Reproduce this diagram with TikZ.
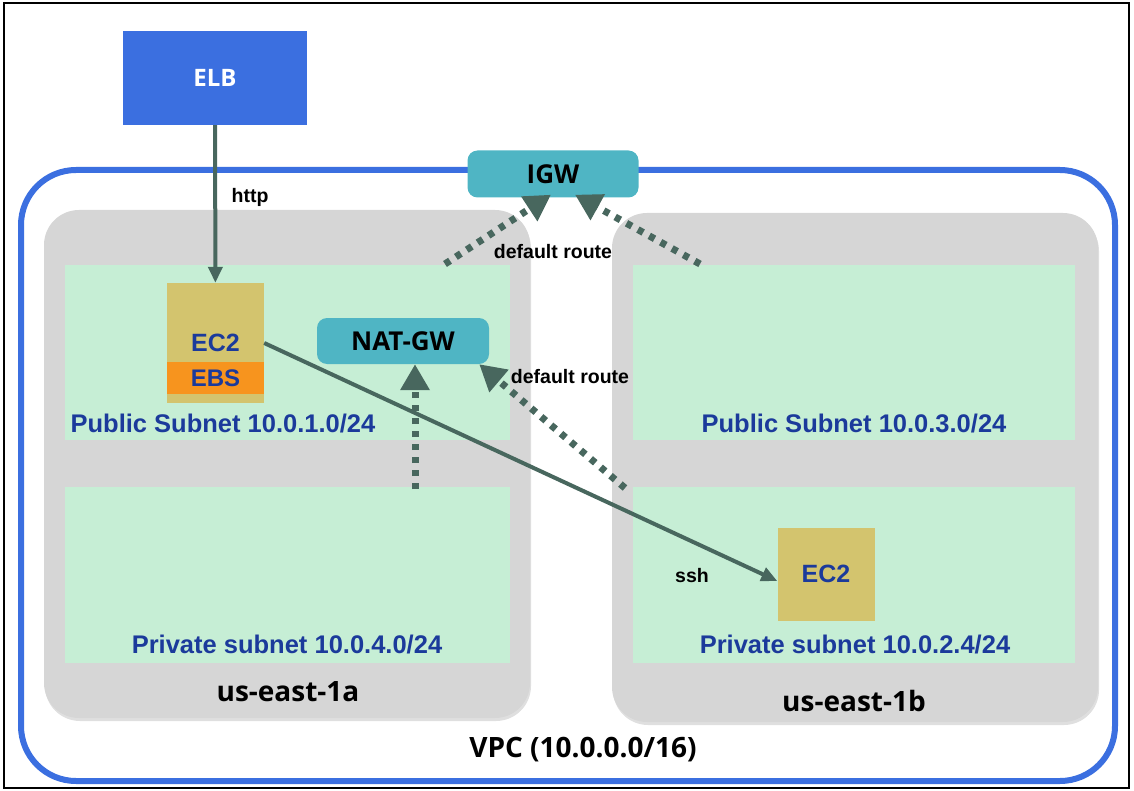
\documentclass[tikz,border=0pt]{standalone}
\usepackage{fontspec}
\setmainfont{Liberation Sans}
\newfontfamily\headfont{Open Sans}
\usetikzlibrary{arrows.meta,positioning,shadows}
\definecolor{vpcblue}{RGB}{59,111,224}
\definecolor{azgray}{RGB}{214,214,214}
\definecolor{subnetgreen}{RGB}{198,238,213}
\definecolor{ec2tan}{RGB}{211,196,110}
\definecolor{ebsorange}{RGB}{247,148,30}
\definecolor{gwteal}{RGB}{79,181,196}
\definecolor{navytext}{RGB}{27,58,155}
\definecolor{linkgreen}{RGB}{72,103,94}

\begin{document}
\begin{tikzpicture}[
    x=1pt, y=-1pt,
    azbox/.style={fill=azgray, rounded corners=35pt, inner sep=0pt,
        drop shadow={opacity=0.25, shadow xshift=1pt, shadow yshift=-3pt}},
    subnetbox/.style={fill=subnetgreen, inner sep=0pt},
    ec2box/.style={fill=ec2tan, inner sep=0pt, text=navytext,
        font=\fontsize{25}{28}\selectfont\bfseries},
    gwbox/.style={fill=gwteal, rounded corners=10pt, inner sep=0pt,
        font=\headfont\fontsize{26}{28}\selectfont\bfseries},
    subnetlabel/.style={text=navytext, font=\fontsize{25.5}{28}\selectfont\bfseries},
    azlabel/.style={font=\headfont\fontsize{28}{30}\selectfont\bfseries},
    linklabel/.style={font=\fontsize{19.5}{22}\selectfont\bfseries},
    link/.style={linkgreen, line width=4pt, -{Triangle[length=16pt, width=14pt]}},
    route/.style={linkgreen, line width=7pt, dash pattern=on 6pt off 7pt,
        -{Triangle[length=26pt, width=28pt]}}
]
\useasboundingbox (0,0) rectangle (1134,791);

% Outer frame
\draw[black, line width=2pt] (4,3) rectangle (1129,788);

% VPC
\draw[vpcblue, line width=6pt, rounded corners=55pt] (21,170) rectangle (1115,781);
\node[azlabel] (vpclabel) at (583,750) {VPC (10.0.0.0/16)};

% Availability zones
\node[azbox, minimum width=486, minimum height=508] (aza) at (287,464) {};
\node[azbox, minimum width=486, minimum height=509] (azb) at (855,467.5) {};
\node[azlabel] (azalabel) at (288,692) {us-east-1a};
\node[azlabel] (azblabel) at (854,701) {us-east-1b};

% Subnets
\node[subnetbox, minimum width=445, minimum height=175] (puba) at (287.5,352.5) {};
\node[subnetbox, minimum width=445, minimum height=176] (priva) at (287.5,574.5) {};
\node[subnetbox, minimum width=442, minimum height=175] (pubb) at (854,352.5) {};
\node[subnetbox, minimum width=442, minimum height=176] (privb) at (854,574.5) {};
\node[subnetlabel] (pubalabel) at (223,424) {Public Subnet 10.0.1.0/24};
\node[subnetlabel] (pubblabel) at (854,424) {Public Subnet 10.0.3.0/24};
\node[subnetlabel] (privalabel) at (287,645) {Private subnet 10.0.4.0/24};
\node[subnetlabel] (privblabel) at (855,645) {Private subnet 10.0.2.4/24};

% ELB
\node[fill=vpcblue, text=white, minimum width=184, minimum height=94, inner sep=0pt,
    font=\headfont\fontsize{24}{28}\selectfont\bfseries] (elb) at (215,78) {ELB};

% Instances
\node[ec2box, minimum width=97, minimum height=120] (ec2a) at (215.5,343) {};
\node[ec2box, fill=ebsorange, minimum width=97, minimum height=32,
    font=\fontsize{24}{28}\selectfont\bfseries] (ebs) at (215.5,378) {EBS};
\node[text=navytext, font=\fontsize{25}{28}\selectfont\bfseries] (ec2alabel) at (215.5,343) {EC2};
\node[ec2box, minimum width=97, minimum height=93] (ec2b) at (826,574) {EC2};

% Gateways
\node[gwbox, minimum width=172, minimum height=46] (nat) at (403,341) {NAT-GW};
\node[gwbox, minimum width=171, minimum height=47] (igw) at (553,174) {IGW};

% Traffic
\draw[link] (elb) -- (ec2a);
\node[linklabel] (httplabel) at (250,197) {http};
\draw[link] (ec2a.east) -- ([yshift=-7pt]ec2b.west);
\node[linklabel] (sshlabel) at (692,576) {ssh};

% Default routes
\coordinate (privaout) at (415,489);
\coordinate (privbout) at (625,488);
\coordinate (pubaout) at (445,264);
\coordinate (pubbout) at (700,264);
\draw[route] (privaout) -- ([xshift=12pt]nat.south);
\draw[route] (privbout) -- ([xshift=-10pt]nat.south east);
\draw[route] (pubaout) -- ([xshift=-2pt, yshift=3pt]igw.south);
\draw[route] (pubbout) -- ([xshift=22pt, yshift=3pt]igw.south);
\node[linklabel] (routeigw) at (553,252) {default route};
\node[linklabel] (routenat) at (570,377) {default route};

\end{tikzpicture}
\end{document}
